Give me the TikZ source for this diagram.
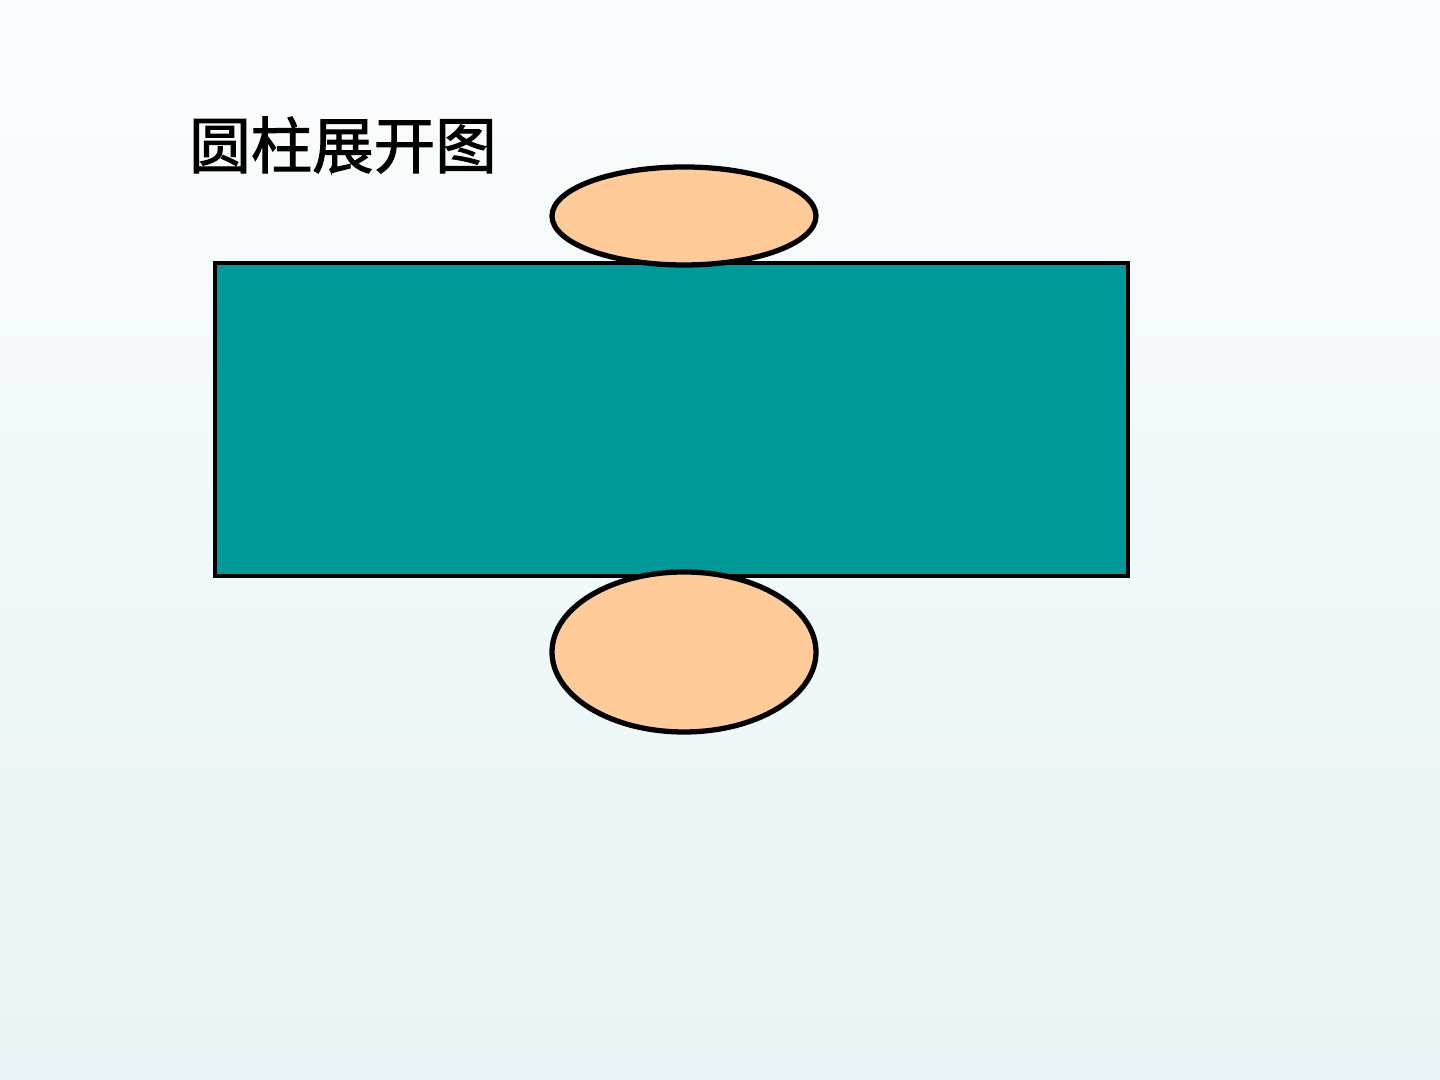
\documentclass[tikz,border=0pt]{standalone}
\usepackage{fontspec}
\newfontfamily\cjk[UprightFeatures={FakeBold=1.6}]{Noto Sans CJK SC}
\usepackage{xcolor}
\usetikzlibrary{shapes.geometric}
\definecolor{sidecolor}{HTML}{009999}
\definecolor{lidcolor}{HTML}{FFCC99}
\definecolor{bgtop}{HTML}{FBFCFD}
\definecolor{bgbottom}{HTML}{E8F4F5}
\tikzstyle{side}=[draw,fill=sidecolor,line width=1pt,inner sep=0pt,minimum width=9.13cm,minimum height=3.13cm]
\tikzstyle{lid}=[draw,ellipse,fill=lidcolor,line width=1.5pt,inner sep=0pt,minimum width=2.64cm]

\begin{document}
\begin{tikzpicture}
	\shade[top color=bgtop,bottom color=bgbottom] (0,0) rectangle (14.4,10.8);
	\useasboundingbox (0,0) rectangle (14.4,10.8);
	\node[side] (rect) at (6.715,6.605) {};
	\node[lid,minimum height=0.98cm] (top) at (6.84,8.64) {};
	\node[lid,minimum height=1.60cm] (bot) at (6.84,4.28) {};
	\node[font=\cjk\fontsize{17.5pt}{20pt}\selectfont,inner sep=0pt] (title) at (3.43,9.35) {圆柱展开图};
\end{tikzpicture}
\end{document}
